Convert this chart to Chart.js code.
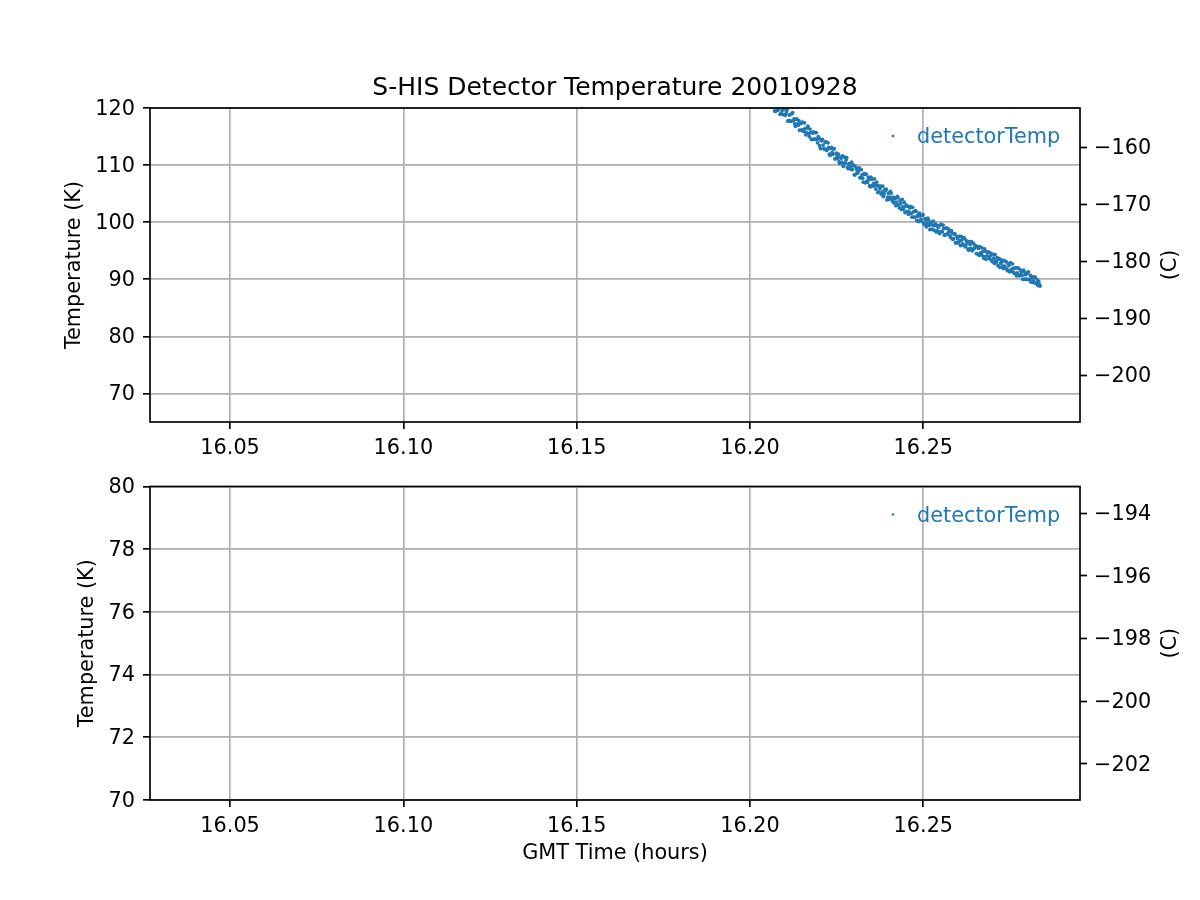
<!DOCTYPE html>
<html lang="en">
<head>
  <meta charset="UTF-8">
  <title>S-HIS Detector Temperature 20010928</title>
  <script src="https://cdn.jsdelivr.net/npm/chart.js"></script>
  <style>
    * { box-sizing: border-box; margin: 0; padding: 0; }
    body { background: #fff; width: 1200px; height: 900px; position: relative; overflow: hidden; }
    canvas { position: absolute; left: 0; }
    #top { top: 0; }
    #bottom { top: 466px; }
  </style>
</head>
<body>

<canvas id="top" width="1200" height="470"></canvas>
<canvas id="bottom" width="1200" height="434"></canvas>

<script>
  // GMT time (hours) and detector temperature (K), first set of samples
  const times = [
    16.2055, 16.2059, 16.2063, 16.2067, 16.2071, 16.2075, 16.2079, 16.2083, 16.2087, 16.2091,
    16.2095, 16.2099, 16.2103, 16.2107, 16.2111, 16.2115, 16.2119, 16.2123, 16.2127, 16.2131,
    16.2135, 16.2139, 16.2143, 16.2147, 16.2151, 16.2155, 16.2159, 16.2163, 16.2167, 16.2171,
    16.2175, 16.2179, 16.2183, 16.2187, 16.2191, 16.2195, 16.2199, 16.2203, 16.2207, 16.2211,
    16.2215, 16.2219, 16.2223, 16.2227, 16.2231, 16.2235, 16.2239, 16.2243, 16.2247, 16.2251,
    16.2255, 16.2259, 16.2263, 16.2267, 16.2271, 16.2275, 16.2279, 16.2283, 16.2287, 16.2291,
    16.2295, 16.2299, 16.2303, 16.2307, 16.2311, 16.2315, 16.2319, 16.2323, 16.2327, 16.2331,
    16.2335, 16.2339, 16.2343, 16.2347, 16.2351, 16.2355, 16.2359, 16.2363, 16.2367, 16.2371,
    16.2375, 16.2379, 16.2383, 16.2387, 16.2391, 16.2395, 16.2399, 16.2403, 16.2407, 16.2411,
    16.2415, 16.2419, 16.2423, 16.2427, 16.2431, 16.2435, 16.2439, 16.2443, 16.2447, 16.2451,
    16.2455, 16.2459, 16.2463, 16.2467, 16.2471, 16.2475, 16.2479, 16.2483, 16.2487, 16.2491,
    16.2495, 16.2499, 16.2503, 16.2507, 16.2511, 16.2515, 16.2519, 16.2523, 16.2527, 16.2531,
    16.2535, 16.2539, 16.2543, 16.2547, 16.2551, 16.2555, 16.2559, 16.2563, 16.2567, 16.2571,
    16.2575, 16.2579, 16.2583, 16.2587, 16.2591, 16.2595, 16.2599, 16.2603, 16.2607, 16.2611,
    16.2615, 16.2619, 16.2623, 16.2627, 16.2631, 16.2635, 16.2639, 16.2643, 16.2647, 16.2651,
    16.2655, 16.2659, 16.2663, 16.2667, 16.2671, 16.2675, 16.2679, 16.2683, 16.2687, 16.2691,
    16.2695, 16.2699, 16.2703, 16.2707, 16.2711, 16.2715, 16.2719, 16.2723, 16.2727, 16.2731,
    16.2735, 16.2739, 16.2743, 16.2747, 16.2751, 16.2755, 16.2759, 16.2763, 16.2767, 16.2771,
    16.2775, 16.2779, 16.2783, 16.2787, 16.2791, 16.2795, 16.2799, 16.2803, 16.2807, 16.2811,
    16.2815, 16.2819, 16.2823, 16.2827, 16.2831, 16.2835
  ];
  const detectorTemp = [
    121.5, 120.2, 121.6, 120.4, 119.5, 120.7, 119.6, 120.1, 118.9, 120.1,
    118.9, 119.9, 118.9, 119.7, 117.8, 118.8, 117.7, 119.2, 118.1, 116.8,
    118.1, 117.0, 116.1, 117.3, 117.5, 115.9, 116.4, 115.7, 116.8, 115.0,
    115.7, 114.5, 115.8, 114.6, 115.7, 113.9, 114.7, 112.9, 114.3, 113.5,
    112.8, 114.1, 112.8, 113.1, 111.7, 113.1, 111.9, 112.9, 111.1, 111.7,
    111.9, 110.3, 111.2, 111.6, 110.2, 110.4, 111.3, 109.4, 110.2, 109.3,
    109.2, 110.0, 108.3, 109.3, 108.6, 109.5, 107.8, 108.3, 107.0, 108.4,
    108.4, 107.0, 107.5, 106.2, 107.5, 106.5, 107.6, 105.8, 106.4, 105.3,
    105.9, 104.9, 106.3, 105.0, 105.6, 103.9, 105.1, 104.4, 105.1, 103.7,
    103.4, 104.2, 103.5, 104.3, 102.5, 103.3, 104.0, 102.3, 101.7, 103.0,
    102.8, 101.8, 102.7, 100.9, 101.8, 100.9, 101.9, 101.0, 100.1, 101.1,
    100.2, 101.3, 99.6, 100.4, 99.8, 100.4, 98.7, 100.0, 99.5, 98.6,
    99.7, 98.5, 99.1, 98.0, 99.6, 98.3, 98.9, 97.8, 99.0, 98.1,
    98.4, 97.3, 98.1, 97.1, 98.0, 96.4, 97.1, 97.5, 95.9, 96.9,
    96.0, 97.1, 96.0, 96.5, 95.1, 96.1, 96.6, 95.2, 95.4, 95.9,
    94.5, 95.4, 95.7, 94.3, 94.8, 93.7, 94.9, 94.1, 94.8, 93.6,
    94.2, 93.1, 93.7, 94.3, 93.0, 92.4, 93.6, 92.8, 93.1, 91.9,
    92.3, 93.1, 91.5, 92.4, 92.9, 91.4, 91.9, 91.0, 92.0, 91.1,
    91.9, 90.8, 91.3, 90.0, 91.3, 90.8, 90.0, 91.3, 90.0, 89.5,
    90.4, 89.4, 90.3, 89.3, 88.9, 89.1
  ];
  // samples in between the first set
  const times2 = [
    16.2057, 16.2061, 16.2065, 16.2069, 16.2073, 16.2077, 16.2081, 16.2085, 16.2089, 16.2093,
    16.2097, 16.2101, 16.2105, 16.2109, 16.2113, 16.2117, 16.2121, 16.2125, 16.2129, 16.2133,
    16.2137, 16.2141, 16.2145, 16.2149, 16.2153, 16.2157, 16.2161, 16.2165, 16.2169, 16.2173,
    16.2177, 16.2181, 16.2185, 16.2189, 16.2193, 16.2197, 16.2201, 16.2205, 16.2209, 16.2213,
    16.2217, 16.2221, 16.2225, 16.2229, 16.2233, 16.2237, 16.2241, 16.2245, 16.2249, 16.2253,
    16.2257, 16.2261, 16.2265, 16.2269, 16.2273, 16.2277, 16.2281, 16.2285, 16.2289, 16.2293,
    16.2297, 16.2301, 16.2305, 16.2309, 16.2313, 16.2317, 16.2321, 16.2325, 16.2329, 16.2333,
    16.2337, 16.2341, 16.2345, 16.2349, 16.2353, 16.2357, 16.2361, 16.2365, 16.2369, 16.2373,
    16.2377, 16.2381, 16.2385, 16.2389, 16.2393, 16.2397, 16.2401, 16.2405, 16.2409, 16.2413,
    16.2417, 16.2421, 16.2425, 16.2429, 16.2433, 16.2437, 16.2441, 16.2445, 16.2449, 16.2453,
    16.2457, 16.2461, 16.2465, 16.2469, 16.2473, 16.2477, 16.2481, 16.2485, 16.2489, 16.2493,
    16.2497, 16.2501, 16.2505, 16.2509, 16.2513, 16.2517, 16.2521, 16.2525, 16.2529, 16.2533,
    16.2537, 16.2541, 16.2545, 16.2549, 16.2553, 16.2557, 16.2561, 16.2565, 16.2569, 16.2573,
    16.2577, 16.2581, 16.2585, 16.2589, 16.2593, 16.2597, 16.2601, 16.2605, 16.2609, 16.2613,
    16.2617, 16.2621, 16.2625, 16.2629, 16.2633, 16.2637, 16.2641, 16.2645, 16.2649, 16.2653,
    16.2657, 16.2661, 16.2665, 16.2669, 16.2673, 16.2677, 16.2681, 16.2685, 16.2689, 16.2693,
    16.2697, 16.2701, 16.2705, 16.2709, 16.2713, 16.2717, 16.2721, 16.2725, 16.2729, 16.2733,
    16.2737, 16.2741, 16.2745, 16.2749, 16.2753, 16.2757, 16.2761, 16.2765, 16.2769, 16.2773,
    16.2777, 16.2781, 16.2785, 16.2789, 16.2793, 16.2797, 16.2801, 16.2805, 16.2809, 16.2813,
    16.2817, 16.2821, 16.2825, 16.2829, 16.2833, 16.2837
  ];
  const detectorTemp2 = [
    120.4, 121.6, 120.6, 121.0, 119.4, 121.1, 119.7, 120.4, 119.1, 119.6,
    120.2, 118.7, 119.4, 117.7, 118.8, 117.7, 119.0, 117.8, 117.2, 118.0,
    117.2, 117.8, 117.3, 116.1, 116.2, 117.4, 115.3, 116.5, 115.5, 116.3,
    114.5, 115.6, 114.5, 115.7, 114.5, 115.0, 113.4, 114.3, 114.5, 112.9,
    114.0, 112.6, 113.9, 111.9, 112.9, 112.2, 112.8, 111.1, 112.1, 111.2,
    110.6, 111.4, 110.5, 109.8, 111.4, 110.9, 109.6, 110.2, 109.6, 110.5,
    109.9, 108.3, 109.7, 108.7, 109.0, 107.8, 109.2, 107.7, 108.5, 106.9,
    107.2, 107.9, 106.4, 107.9, 106.3, 106.8, 106.4, 107.0, 105.2, 106.3,
    106.3, 105.3, 104.5, 105.7, 105.8, 104.4, 104.0, 105.4, 104.1, 104.4,
    104.1, 102.9, 104.5, 103.0, 103.8, 102.2, 102.7, 103.5, 102.8, 101.9,
    101.4, 102.5, 101.5, 102.6, 100.9, 102.0, 100.3, 101.3, 101.6, 100.5,
    101.2, 99.8, 100.6, 99.2, 100.7, 99.4, 99.9, 98.8, 100.2, 99.4,
    98.3, 99.4, 98.3, 99.5, 98.4, 99.5, 97.7, 98.9, 97.9, 98.8,
    97.6, 98.5, 97.0, 97.9, 96.4, 97.5, 96.4, 96.7, 97.5, 96.2,
    97.3, 95.7, 96.7, 95.3, 96.6, 95.4, 95.0, 96.3, 95.7, 94.5,
    95.7, 94.2, 94.6, 95.5, 94.0, 95.3, 93.5, 94.7, 93.9, 94.6,
    93.3, 94.4, 92.8, 93.2, 93.8, 93.5, 92.1, 93.4, 92.3, 93.3,
    93.1, 91.8, 92.7, 91.3, 91.7, 92.7, 91.2, 92.0, 90.6, 92.0,
    90.6, 91.6, 90.7, 91.6, 90.0, 91.0, 91.1, 89.9, 90.7, 90.3,
    89.7, 90.4, 89.3, 89.9, 89.6, 88.8
  ];

  const xTicks = [16.05, 16.10, 16.15, 16.20, 16.25];
  const kTicksTop = [70, 80, 90, 100, 110, 120];
  const cTicksTop = [-200, -190, -180, -170, -160];
  const kTicksBottom = [70, 72, 74, 76, 78, 80];
  const cTicksBottom = [-202, -200, -198, -196, -194];
  const kRangeTop = [65, 120];
  const kRangeBottom = [70, 80];
  const xRange = [16.0269, 16.2952];
  const KELVIN = 273.15;

  const FONT = 'DejaVu Sans';
  const BLUE = '#1f77b4';
  const GRID = '#b0b0b0';
  const LW = 1.67;

  const decor = {
    id: 'decor',
    afterDraw(chart, args, opts) {
      const ctx = chart.ctx;
      const a = chart.chartArea;
      ctx.save();
      // axes frame
      ctx.strokeStyle = '#000';
      ctx.lineWidth = LW;
      ctx.strokeRect(a.left, a.top, a.right - a.left, a.bottom - a.top);

      // legend, no frame
      const ds = chart.data.datasets[0];
      const ly = a.top + 30;
      ctx.fillStyle = BLUE;
      ctx.beginPath();
      ctx.arc(a.right - 187, ly - 2, 1.3, 0, Math.PI * 2);
      ctx.fill();
      ctx.font = '20.8px "' + FONT + '"';
      ctx.textAlign = 'left';
      ctx.textBaseline = 'middle';
      ctx.fillText(ds.label, a.right - 163, ly);

      // right axis label
      ctx.fillStyle = '#000';
      ctx.translate(a.right + 91, (a.top + a.bottom) / 2);
      ctx.rotate(-Math.PI / 2);
      ctx.textAlign = 'center';
      ctx.fillText(opts.rightLabel, 0, 0);
      ctx.restore();

      if (opts.title) {
        ctx.save();
        ctx.font = '25px "' + FONT + '"';
        ctx.fillStyle = '#000';
        ctx.textAlign = 'center';
        ctx.textBaseline = 'alphabetic';
        ctx.fillText(opts.title, (a.left + a.right) / 2, a.top - 13);
        ctx.restore();
      }
    }
  };

  const minus = v => (v < 0 ? '\u2212' + Math.abs(v) : String(v));

  function makeChart(id, cfg) {
    const points = times.map((t, i) => ({ x: t, y: detectorTemp[i] }))
      .concat(times2.map((t, i) => ({ x: t, y: detectorTemp2[i] })));
    const tickFont = { family: FONT, size: 20.8 };
    return new Chart(document.getElementById(id), {
      type: 'scatter',
      data: {
        datasets: [{
          label: 'detectorTemp',
          data: points,
          backgroundColor: BLUE,
          borderWidth: 0,
          pointRadius: 1.9,
          pointHoverRadius: 1.9,
          clip: 0,
          yAxisID: 'y'
        }]
      },
      options: {
        responsive: false,
        animation: false,
        events: [],
        layout: { padding: cfg.padding },
        plugins: {
          legend: { display: false },
          tooltip: { enabled: false },
          decor: { title: cfg.title, rightLabel: '(C)' }
        },
        scales: {
          x: {
            type: 'linear',
            position: 'bottom',
            min: xRange[0],
            max: xRange[1],
            afterBuildTicks: s => { s.ticks = xTicks.map(v => ({ value: v })); },
            afterFit: s => { s.height = cfg.xHeight; },
            ticks: {
              font: tickFont, color: '#000', padding: 7, maxRotation: 0, autoSkip: false,
              callback: v => v.toFixed(2)
            },
            grid: { color: GRID, lineWidth: LW, tickLength: 7, tickColor: '#000', tickWidth: LW },
            border: { display: false },
            title: {
              display: !!cfg.xTitle, text: cfg.xTitle || '', color: '#000',
              font: { family: FONT, size: 20.8 }, padding: 0
            }
          },
          y: {
            type: 'linear',
            position: 'left',
            min: cfg.kRange[0],
            max: cfg.kRange[1],
            afterBuildTicks: s => { s.ticks = cfg.kTicks.map(v => ({ value: v })); },
            afterFit: s => { s.width = cfg.yWidth; },
            ticks: { font: tickFont, color: '#000', padding: 8, labelOffset: 1.5 },
            grid: { color: GRID, lineWidth: LW, tickLength: 7, tickColor: '#000', tickWidth: LW },
            border: { display: false },
            title: {
              display: true, text: 'Temperature (K)', color: '#000',
              font: { family: FONT, size: 20.8 }, padding: 0
            }
          },
          c: {
            type: 'linear',
            position: 'right',
            min: cfg.kRange[0] - KELVIN,
            max: cfg.kRange[1] - KELVIN,
            afterBuildTicks: s => { s.ticks = cfg.cTicks.map(v => ({ value: v })); },
            afterFit: s => { s.width = 120; },
            ticks: { font: tickFont, color: '#000', padding: 7, labelOffset: 1.5, callback: minus },
            grid: { drawOnChartArea: false, tickLength: 7, tickColor: '#000', tickWidth: LW },
            border: { display: false }
          }
        }
      },
      plugins: [decor]
    });
  }

  makeChart('top', {
    padding: { top: 108, left: 62.5, right: 0, bottom: 0 },
    yWidth: 87.5,
    xHeight: 48,
    kRange: kRangeTop,
    kTicks: kTicksTop,
    cTicks: cTicksTop,
    title: 'S-HIS Detector Temperature 20010928'
  });

  makeChart('bottom', {
    padding: { top: 20, left: 75.5, right: 0, bottom: 33.7 },
    yWidth: 74.5,
    xHeight: 66.3,
    kRange: kRangeBottom,
    kTicks: kTicksBottom,
    cTicks: cTicksBottom,
    xTitle: 'GMT Time (hours)'
  });
</script>

</body>
</html>
